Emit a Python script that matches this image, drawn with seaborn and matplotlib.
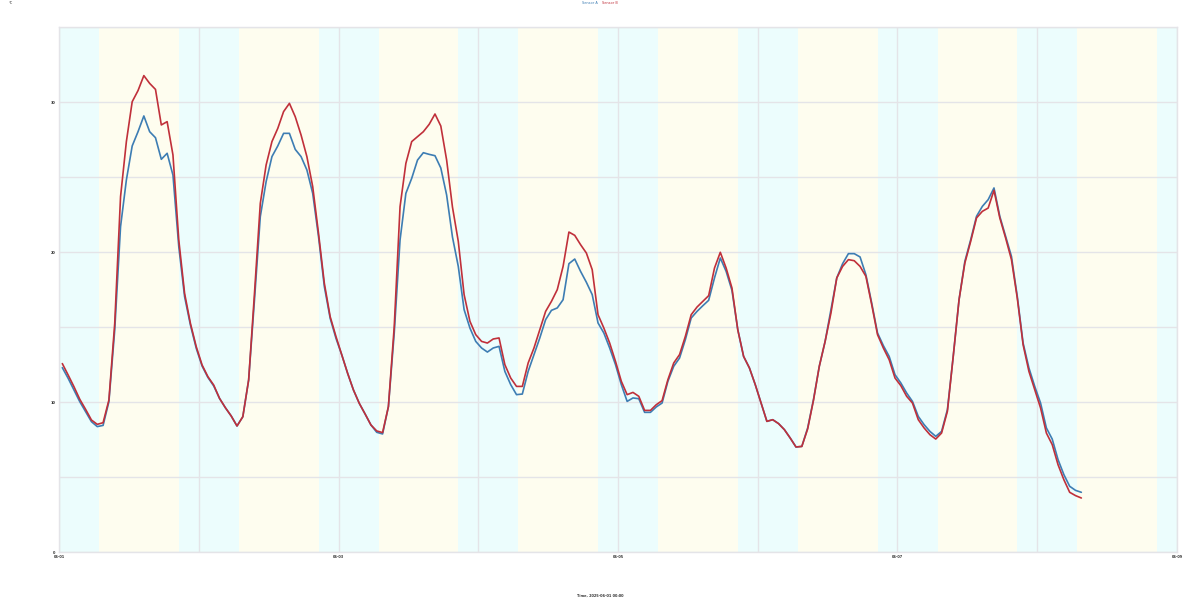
import numpy as np
import pandas as pd
import matplotlib
matplotlib.use("Agg")
import matplotlib.pyplot as plt
import seaborn as sns

# ---- data ----
hour_offset = 0.57  # hours from axis start to first sample
series_a_name = "Sensor A"
series_b_name = "Sensor B"
series_a = [12.29, 11.58, 10.8, 10.02, 9.36, 8.69, 8.36, 8.44, 10.02, 14.8,
            21.69, 24.8, 27.07, 28.02, 29.07, 28.02, 27.62, 26.18, 26.58, 25.13,
            20.36, 17.02, 15.13, 13.58, 12.4, 11.64, 11.07, 10.24, 9.62, 9.07,
            8.4, 9.02, 11.47, 16.8, 22.36, 24.69, 26.36, 27.07, 27.91, 27.91,
            26.84, 26.36, 25.47, 23.91, 21.02, 17.69, 15.58, 14.24, 13.13, 11.91,
            10.8, 9.91, 9.2, 8.47, 7.98, 7.87, 9.69, 14.58, 20.8, 23.91,
            24.91, 26.13, 26.62, 26.51, 26.42, 25.6, 23.8, 21.0, 19.04, 16.16,
            14.93, 14.04, 13.6, 13.33, 13.6, 13.71, 12.04, 11.16, 10.49, 10.53,
            12.04, 13.16, 14.27, 15.49, 16.11, 16.27, 16.82, 19.22, 19.53, 18.71,
            17.98, 17.16, 15.27, 14.6, 13.6, 12.49, 11.16, 10.04, 10.27, 10.22,
            9.31, 9.31, 9.67, 9.93, 11.38, 12.38, 12.93, 14.16, 15.6, 16.04,
            16.42, 16.78, 18.27, 19.6, 18.71, 17.44, 14.82, 13.04, 12.27, 11.16,
            9.93, 8.71, 8.82, 8.56, 8.16, 7.6, 7.0, 7.04, 8.27, 10.16,
            12.38, 14.04, 16.16, 18.27, 19.22, 19.89, 19.89, 19.67, 18.49, 16.6,
            14.6, 13.76, 13.04, 11.82, 11.27, 10.6, 10.04, 9.04, 8.49, 8.04,
            7.71, 8.04, 9.49, 13.04, 16.82, 19.38, 20.82, 22.38, 23.04, 23.49,
            24.27, 22.38, 21.04, 19.71, 17.04, 13.93, 12.27, 11.04, 9.93, 8.27,
            7.53, 6.16, 5.16, 4.38, 4.11, 3.98]
series_b = [12.56, 11.8, 11.02, 10.18, 9.51, 8.8, 8.51, 8.62, 10.13, 15.24,
            23.69, 27.36, 30.02, 30.76, 31.76, 31.24, 30.84, 28.47, 28.69, 26.47,
            20.8, 17.24, 15.24, 13.69, 12.47, 11.69, 11.13, 10.24, 9.62, 9.07,
            8.4, 9.02, 11.47, 17.24, 23.24, 25.8, 27.36, 28.24, 29.36, 29.91,
            29.02, 27.8, 26.36, 24.36, 21.24, 17.91, 15.69, 14.36, 13.13, 11.91,
            10.8, 9.91, 9.2, 8.47, 8.07, 7.96, 9.69, 15.02, 23.02, 25.91,
            27.36, 27.69, 28.02, 28.51, 29.2, 28.4, 26.13, 23.0, 20.71, 17.16,
            15.38, 14.49, 14.04, 13.93, 14.2, 14.27, 12.49, 11.6, 11.04, 11.04,
            12.6, 13.6, 14.82, 16.04, 16.71, 17.49, 19.04, 21.33, 21.11, 20.49,
            19.93, 18.82, 15.82, 14.93, 13.93, 12.71, 11.38, 10.49, 10.64, 10.38,
            9.44, 9.44, 9.82, 10.09, 11.49, 12.6, 13.16, 14.38, 15.82, 16.33,
            16.71, 17.09, 18.93, 19.98, 18.93, 17.6, 14.82, 13.04, 12.27, 11.16,
            9.93, 8.71, 8.82, 8.56, 8.16, 7.6, 7.0, 7.04, 8.2, 10.11,
            12.38, 14.04, 15.93, 18.27, 19.04, 19.49, 19.42, 19.04, 18.38, 16.49,
            14.49, 13.6, 12.82, 11.6, 11.09, 10.38, 9.93, 8.82, 8.27, 7.82,
            7.53, 7.93, 9.38, 13.04, 16.82, 19.27, 20.71, 22.27, 22.71, 22.93,
            24.11, 22.27, 20.93, 19.49, 16.93, 13.82, 12.04, 10.82, 9.6, 7.93,
            7.16, 5.82, 4.82, 3.98, 3.76, 3.6]
day_start_hour = 6.9
day_end_hour = 20.6
n_days = 8
x_tick_hours = [0, 48, 96, 144, 192]
x_tick_labels = ["06-01", "06-03", "06-05", "06-07", "06-09"]
y_ticks = [0, 10, 20, 30]
y_tick_labels = ["0", "10", "20", "30"]
x_label = "Time, 2025-06-01 00:00"
y_unit = "°C"

color_a = "#3d7db3"
color_b = "#c0303a"
night_color = "#ecfdfd"
day_color = "#fefdef"

hours = [hour_offset + i for i in range(len(series_a))]
df = pd.DataFrame({
    "hour": hours * 2,
    "value": series_a + series_b,
    "series": [series_a_name] * len(series_a) + [series_b_name] * len(series_b),
})

sns.set_theme(style="white")
plt.rcParams["font.family"] = ["DejaVu Sans"]

fig = plt.figure(figsize=(12, 6), dpi=100)
ax = fig.add_axes([59 / 1200, 48 / 600, 1118 / 1200, 525 / 600])

# day / night bands
total = n_days * 24
ax.axvspan(0, day_start_hour, color=night_color, lw=0, zorder=0)
for d in range(n_days):
    s = d * 24 + day_start_hour
    e = d * 24 + day_end_hour
    ax.axvspan(s, e, color=day_color, lw=0, zorder=0)
    nxt = min((d + 1) * 24 + day_start_hour, total)
    ax.axvspan(e, nxt, color=night_color, lw=0, zorder=0)

sns.lineplot(data=df, x="hour", y="value", hue="series",
             palette={series_a_name: color_a, series_b_name: color_b},
             hue_order=[series_a_name, series_b_name],
             linewidth=1.2, ax=ax, legend=False, zorder=3)

ax.set_xlim(0, total)
ax.set_ylim(0, 35)
ax.set_xticks(x_tick_hours)
ax.set_xticklabels(x_tick_labels)
ax.set_xticks(np.arange(0, total + 1, 24), minor=True)
ax.set_yticks(y_ticks)
ax.set_yticklabels(y_tick_labels)
ax.set_yticks(np.arange(0, 36, 5), minor=True)
ax.grid(which="both", color="#e4e4e8", linewidth=1.0, zorder=1)
ax.set_axisbelow(True)
ax.tick_params(axis="both", which="major", labelsize=2.5, length=0, pad=2.5,
               labelcolor="#333333")
ax.tick_params(axis="both", which="minor", length=0)
for lab in ax.get_xticklabels() + ax.get_yticklabels():
    lab.set_fontweight("bold")
ax.set_xlabel("")
ax.set_ylabel("")
for sp in ax.spines.values():
    sp.set_color("#e4e4e8")
    sp.set_linewidth(1.0)

fig.text(600 / 1200, 1 - 596 / 600, x_label, fontsize=2.5, fontweight="bold",
         color="#333333", va="center", ha="center")
fig.text(11 / 1200, 1 - 2.5 / 600, y_unit, fontsize=2.5, va="center", ha="center")
fig.text(598 / 1200, 1 - 2.5 / 600, series_a_name, color=color_a, fontsize=2.5,
         va="center", ha="right")
fig.text(602 / 1200, 1 - 2.5 / 600, series_b_name, color=color_b, fontsize=2.5,
         va="center", ha="left")

fig.savefig("out.png", dpi=100)
